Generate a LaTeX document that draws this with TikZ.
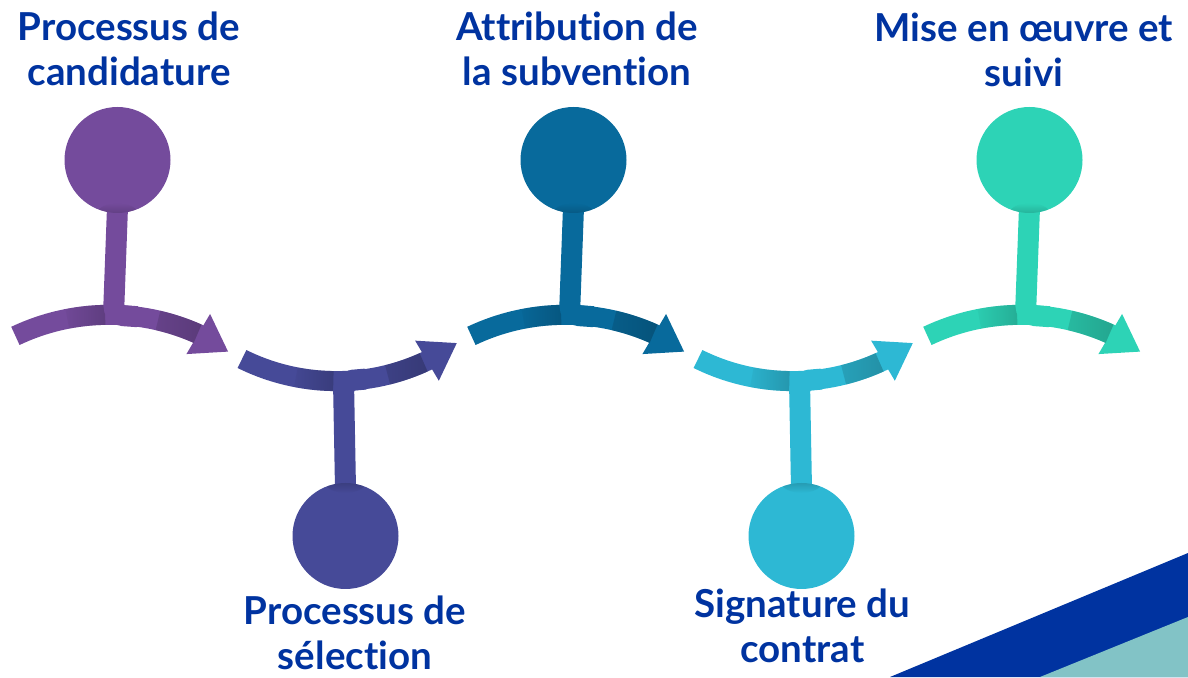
\documentclass[tikz,border=0pt]{standalone}
\usepackage{fontspec}
\setmainfont{Lato}[Ligatures=NoCommon]
\usetikzlibrary{arrows.meta,fadings}

\definecolor{stepA}{RGB}{116,75,156}
\definecolor{stepB}{RGB}{70,74,152}
\definecolor{stepC}{RGB}{8,106,156}
\definecolor{stepD}{RGB}{45,184,212}
\definecolor{stepE}{RGB}{45,211,182}
\definecolor{titleblue}{RGB}{0,51,160}
\definecolor{lightteal}{RGB}{130,195,198}
\tikzfading[name=shadowfade, left color=transparent!100, right color=transparent!25]

\begin{document}
\begin{tikzpicture}[x=1pt,y=1pt,
        dot/.style = {circle, inner sep=0pt, minimum size=106pt},
        band/.style = {line width=20pt, -{Triangle[length=35pt,width=44pt]}},
        stem/.style = {line width=21pt, rounded corners=10pt},
        shadow/.style = {line width=20pt, path fading=shadowfade},
        title/.style = {text=titleblue, font=\bfseries\fontsize{38.5}{45}\selectfont, align=center, anchor=base}]
        \useasboundingbox (0,0) rectangle (1188,677);
        \fill[titleblue] (890,0) -- (1188,124) -- (1188,0) -- cycle;
        \fill[lightteal] (1040,0) -- (1188,60) -- (1188,0) -- cycle;
        % steps with the circle on top
        \foreach \i/\col in {1/stepA,3/stepC,5/stepE} {
            \pgfmathsetmacro{\cx}{117.5+228*(\i-1)}
            \coordinate (start\i) at (\cx-102.1,341.1);
            \coordinate (tip\i) at (\cx+110.9,325.2);
            \coordinate (mid\i) at (\cx-8.6,144.2);
            \draw[band, \col] (start\i) arc[start angle=115.4, end angle=65.9, radius=218] -- (tip\i);
            \draw[shadow, \col!70!black] (mid\i) ++(101:218) arc[start angle=101, end angle=91, radius=218];
            \draw[shadow, \col!70!black] (mid\i) ++(77:218) arc[start angle=77, end angle=66, radius=218];
            \node[dot, fill=\col] (step\i) at (\cx,517) {};
            \draw[stem, \col] ([yshift=6pt]step\i.south) -- (\cx-4,362) -- (\cx+20,360.3);
            \begin{scope}
                \clip (step\i.center) circle[radius=53];
                \fill[\col!70!black, path fading=north] (step\i.south) ellipse[x radius=20, y radius=10];
            \end{scope}
        }
        % steps with the circle below
        \foreach \i/\col in {2/stepB,4/stepD} {
            \pgfmathsetmacro{\cx}{117.5+228*(\i-1)}
            \coordinate (start\i) at (\cx-103.5,318);
            \coordinate (tip\i) at (\cx+111.6,334.1);
            \coordinate (mid\i) at (\cx-9.2,508);
            \draw[band, \col] (start\i) arc[start angle=-116.4, end angle=-64.8, radius=212.1] -- (tip\i);
            \draw[shadow, \col!70!black] (mid\i) ++(-101:212.1) arc[start angle=-101, end angle=-90.8, radius=212.1];
            \draw[shadow, \col!70!black] (mid\i) ++(-76:212.1) arc[start angle=-76, end angle=-65.7, radius=212.1];
            \node[dot, fill=\col] (step\i) at (\cx,141) {};
            \draw[stem, \col] ([yshift=-6pt]step\i.north) -- (\cx-2,296) -- (\cx+20,297.9);
            \begin{scope}
                \clip (step\i.center) circle[radius=53];
                \fill[\col!70!black, path fading=south] (step\i.north) ellipse[x radius=20, y radius=10];
            \end{scope}
        }
        \node[title] (text1) at (129,591) {Processus de\\candidature};
        \node[title] (text2) at (355,8) {Processus de\\sélection};
        \node[title] (text3) at (577,591) {Attribution de\\la subvention};
        \node[title] (text4) at (802.5,14) {Signature du\\contrat};
        \node[title] (text5) at (1024,590) {Mise en œuvre et\\suivi};
\end{tikzpicture}
\end{document}
